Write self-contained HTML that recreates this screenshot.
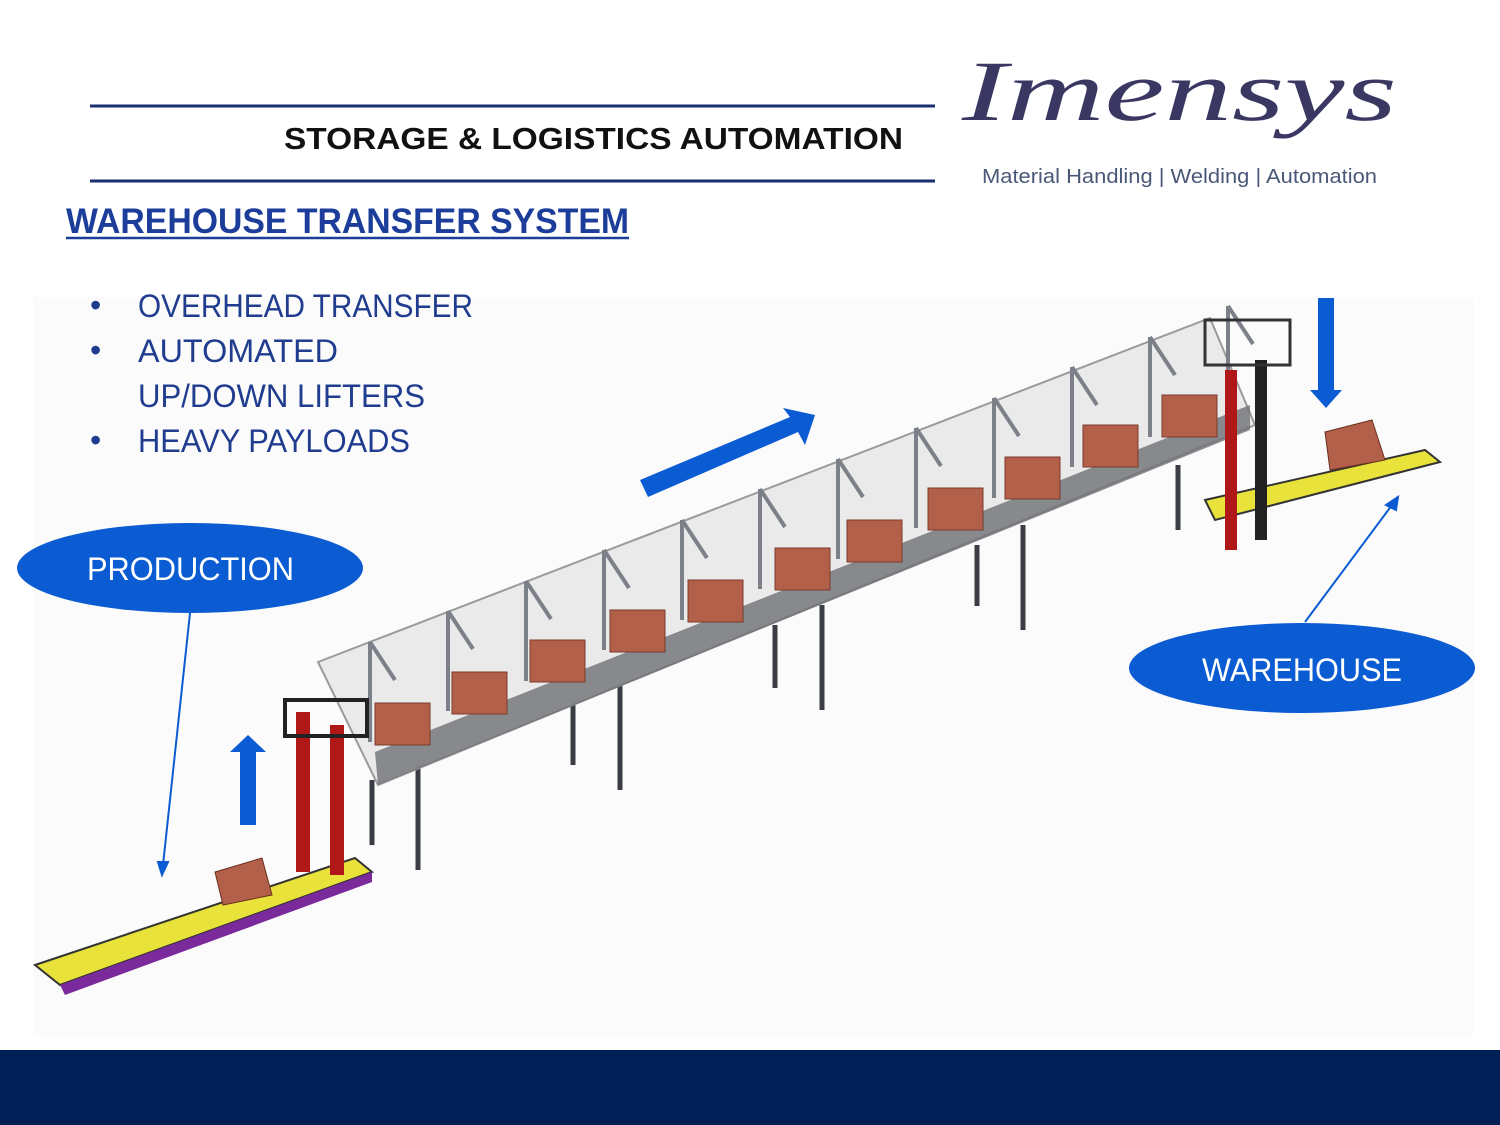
<!DOCTYPE html>
<html><head><meta charset="utf-8"><style>
html,body{margin:0;padding:0;background:#fff;}
svg{display:block;}
.s{font-family:"Liberation Sans",sans-serif;}
</style></head><body>
<svg width="1500" height="1125" viewBox="0 0 1500 1125" xmlns="http://www.w3.org/2000/svg" class="s">
<rect width="1500" height="1125" fill="#ffffff"/>
<rect x="33" y="297" width="1440" height="740" fill="#fbfbfb"/>
<!-- header -->
<line x1="90" y1="106" x2="935" y2="106" stroke="#1a2f6e" stroke-width="3"/>
<line x1="90" y1="181" x2="935" y2="181" stroke="#1a2f6e" stroke-width="3"/>
<text x="284" y="149" font-size="31" font-weight="bold" fill="#111" textLength="619" lengthAdjust="spacingAndGlyphs">STORAGE &amp; LOGISTICS AUTOMATION</text>
<text x="962" y="120" style="font-family:'Liberation Serif',serif;font-style:italic" font-size="86" fill="#3a3763" textLength="435" lengthAdjust="spacingAndGlyphs">Imensys</text>
<text x="982" y="183" font-size="20" fill="#4a5878" textLength="395" lengthAdjust="spacingAndGlyphs">Material Handling | Welding | Automation</text>
<text x="66" y="233" font-size="35" font-weight="bold" fill="#1c3d9a" textLength="563" lengthAdjust="spacingAndGlyphs">WAREHOUSE TRANSFER SYSTEM</text>
<line x1="66" y1="238" x2="629" y2="238" stroke="#1c3d9a" stroke-width="2.5"/>
<g font-size="32" fill="#1f3c8f">
<text x="90" y="316">•</text><text x="138" y="317" textLength="335" lengthAdjust="spacingAndGlyphs">OVERHEAD TRANSFER</text>
<text x="90" y="361">•</text><text x="138" y="362" textLength="200" lengthAdjust="spacingAndGlyphs">AUTOMATED</text>
<text x="138" y="407" textLength="287" lengthAdjust="spacingAndGlyphs">UP/DOWN LIFTERS</text>
<text x="90" y="451">•</text><text x="138" y="452" textLength="272" lengthAdjust="spacingAndGlyphs">HEAVY PAYLOADS</text>
</g>
<!-- legs -->
<g stroke="#3a3d44" stroke-width="5">
<line x1="372" y1="780" x2="372" y2="845"/><line x1="418" y1="765" x2="418" y2="870"/>
<line x1="573" y1="705" x2="573" y2="765"/><line x1="620" y1="685" x2="620" y2="790"/>
<line x1="775" y1="625" x2="775" y2="688"/><line x1="822" y1="605" x2="822" y2="710"/>
<line x1="977" y1="545" x2="977" y2="606"/><line x1="1023" y1="525" x2="1023" y2="630"/>
<line x1="1178" y1="465" x2="1178" y2="530"/>
</g>
<!-- tunnel -->
<polygon points="318,662 1210,318 1255,425 378,785" fill="#e6e6e6" fill-opacity="0.8" stroke="#9a9a9a" stroke-width="2"/>
<polygon points="375,752 1250,405 1250,430 378,785" fill="#6e7076" fill-opacity="0.8"/>
<g fill="#b3604a" stroke="#7a3a2a" stroke-width="1">
<rect x="375" y="703" width="55" height="42"/><rect x="452" y="672" width="55" height="42"/>
<rect x="530" y="640" width="55" height="42"/><rect x="610" y="610" width="55" height="42"/>
<rect x="688" y="580" width="55" height="42"/><rect x="775" y="548" width="55" height="42"/>
<rect x="847" y="520" width="55" height="42"/><rect x="928" y="488" width="55" height="42"/>
<rect x="1005" y="457" width="55" height="42"/><rect x="1083" y="425" width="55" height="42"/>
<rect x="1162" y="395" width="55" height="42"/>
</g>
<g stroke="#7c8088" stroke-width="4" fill="none">
<path d="M370 642V742M370 642l25 38M448 611V711M448 611l25 38M526 581V681M526 581l25 38M604 550V650M604 550l25 38M682 520V620M682 520l25 38M760 489V589M760 489l25 38M838 459V559M838 459l25 38M916 428V528M916 428l25 38M994 398V498M994 398l25 38M1072 367V467M1072 367l25 38M1150 337V437M1150 337l25 38M1228 306V406M1228 306l25 38"/>
</g>
<!-- left lifter & conveyor -->
<polygon points="35,965 355,858 372,872 60,985" fill="#e8e23a" stroke="#333" stroke-width="2"/>
<polygon points="60,985 372,872 372,882 65,995" fill="#7a2a9a"/>
<rect x="296" y="712" width="14" height="160" fill="#b01818"/><rect x="330" y="725" width="14" height="150" fill="#b01818"/>
<rect x="285" y="700" width="82" height="36" fill="none" stroke="#222" stroke-width="4"/>
<polygon points="215,872 262,858 272,895 223,905" fill="#b3604a" stroke="#6a3020"/>
<!-- right lifter & conveyor -->
<polygon points="1205,500 1425,450 1440,462 1215,520" fill="#e8e23a" stroke="#333" stroke-width="2"/>
<rect x="1225" y="370" width="12" height="180" fill="#b01818"/><rect x="1255" y="360" width="12" height="180" fill="#222"/>
<rect x="1205" y="320" width="85" height="45" fill="none" stroke="#333" stroke-width="3"/>
<polygon points="1325,432 1372,420 1385,460 1330,470" fill="#b3604a" stroke="#6a3020"/>
<!-- blue arrows -->
<g fill="#0b5bd3">
<polygon points="640,480 790,417 783,408 815,415 805,445 798,432 648,497"/>
<polygon points="240,825 256,825 256,752 266,752 248,735 230,752 240,752"/>
<polygon points="1318,298 1334,298 1334,390 1342,390 1326,408 1310,390 1318,390"/>
<ellipse cx="190" cy="568" rx="173" ry="45"/>
<ellipse cx="1302" cy="668" rx="173" ry="45"/>
</g>
<g stroke="#0b5bd3" stroke-width="2" fill="#0b5bd3">
<line x1="190" y1="613" x2="163" y2="865"/><polygon points="158,862 168,862 162,875"/>
<line x1="1305" y1="622" x2="1392" y2="505"/><polygon points="1386,505 1396,510 1398,497"/>
</g>
<text x="87" y="580" font-size="32" fill="#fff" textLength="207" lengthAdjust="spacingAndGlyphs">PRODUCTION</text>
<text x="1202" y="681" font-size="32" fill="#fff" textLength="200" lengthAdjust="spacingAndGlyphs">WAREHOUSE</text>
<rect x="0" y="1050" width="1500" height="75" fill="#001f57"/>
</svg>
</body></html>
